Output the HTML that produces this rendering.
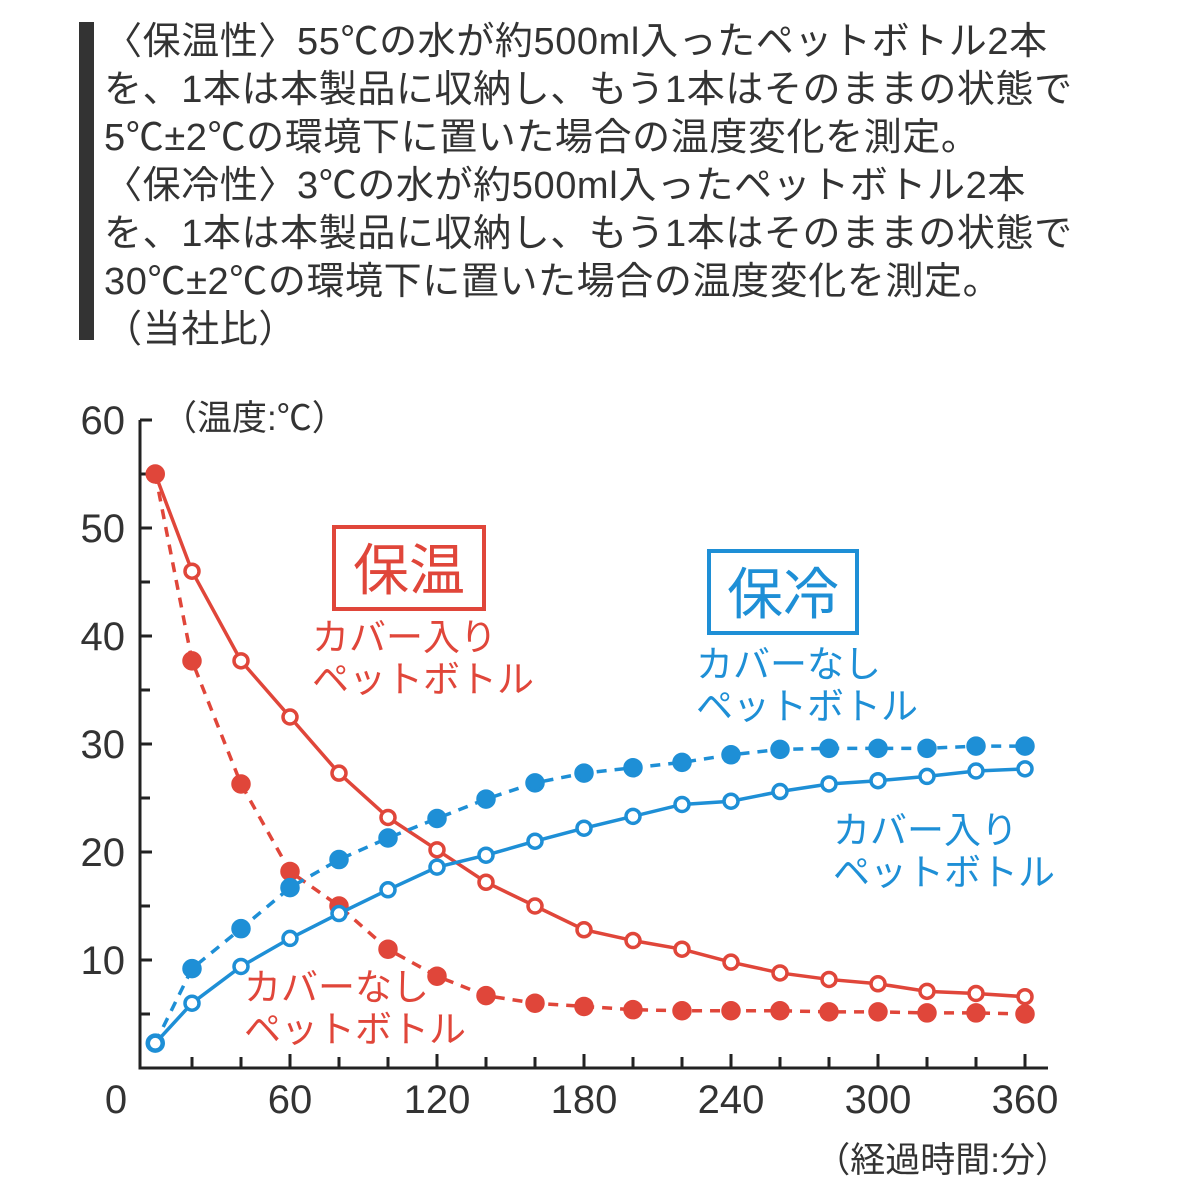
<!DOCTYPE html>
<html><head><meta charset="utf-8"><style>
body{margin:0;background:#fff;width:1200px;height:1200px;overflow:hidden}
.t{position:absolute;left:104px;font-family:"Liberation Sans","Noto Sans CJK JP",sans-serif;font-size:38px;letter-spacing:0.6px;color:#333;white-space:nowrap;line-height:48px}
</style></head><body>
<div style="position:absolute;left:79px;top:22px;width:15px;height:318px;background:#333"></div>
<div class="t" style="top:18px">〈保温性〉55℃の水が約500ml入ったペットボトル2本<br>を、1本は本製品に収納し、もう1本はそのままの状態で<br>5℃±2℃の環境下に置いた場合の温度変化を測定。<br>〈保冷性〉3℃の水が約500ml入ったペットボトル2本<br>を、1本は本製品に収納し、もう1本はそのままの状態で<br>30℃±2℃の環境下に置いた場合の温度変化を測定。<br>（当社比）</div>
<svg id="s" width="1200" height="1200" style="position:absolute;left:0;top:0" font-family="Liberation Sans, Noto Sans CJK JP, sans-serif"></svg>
<script>
const s=document.getElementById('s');let h='';
const X=t=>143+t*147/60, Y=v=>1068-v*10.8;
h+='<path d="M140 420 V1068 H1048" stroke="#222" stroke-width="3" fill="none"/>';
for(let v=5;v<=60;v+=5)h+=`<line x1="140" x2="${v%10?150:152}" y1="${Y(v)}" y2="${Y(v)}" stroke="#222" stroke-width="3"/>`;
for(let t=20;t<=360;t+=20)h+=`<line x1="${X(t)}" x2="${X(t)}" y1="1068" y2="${t%60?1057:1054}" stroke="#222" stroke-width="3"/>`;
for(let v=10;v<=60;v+=10)h+=`<text x="125" y="${Y(v)+14}" text-anchor="end" font-size="40" fill="#333">${v}</text>`;
h+=`<text x="116" y="1113" text-anchor="middle" font-size="40" fill="#333">0</text>`;
for(let t=60;t<=360;t+=60)h+=`<text x="${X(t)}" y="1113" text-anchor="middle" font-size="40" fill="#333">${t}</text>`;
h+=`<text x="162" y="430" font-size="35" fill="#333">（温度:℃）</text>`;
h+=`<text x="1070" y="1172" text-anchor="end" font-size="35" fill="#333">（経過時間:分）</text>`;
const T=[5,20,40,60,80,100,120,140,160,180,200,220,240,260,280,300,320,340,360];
const R='#e0463a',B='#1e8fd6';
const S=[
[[55,46,37.7,32.5,27.3,23.2,20.2,17.2,15,12.8,11.8,11,9.8,8.8,8.2,7.8,7.1,6.9,6.6],R,0],
[[55,37.7,26.3,18.2,15,11,8.5,6.7,6,5.7,5.4,5.3,5.3,5.3,5.2,5.2,5.1,5.1,5.0],R,1],
[[2.3,9.2,12.9,16.7,19.3,21.3,23.1,24.9,26.4,27.3,27.8,28.3,29,29.5,29.6,29.6,29.6,29.8,29.8],B,1],
[[2.3,6,9.4,12,14.3,16.5,18.6,19.7,21,22.2,23.3,24.4,24.7,25.6,26.3,26.6,27,27.5,27.7],B,0]];
for(const [d,c,f] of S){
 h+=`<polyline points="${d.map((v,i)=>X(T[i])+','+Y(v)).join(' ')}" fill="none" stroke="${c}" stroke-width="3.5" ${f?'stroke-dasharray="10 8"':''}/>`;
 d.forEach((v,i)=>h+=`<circle cx="${X(T[i])}" cy="${Y(v)}" r="${f?8:7}" fill="${f?c:'#fff'}" stroke="${c}" stroke-width="3.5"/>`);
}
h+=`<rect x="334" y="527" width="150" height="82" fill="none" stroke="${R}" stroke-width="4"/>`;
h+=`<text x="409" y="590" text-anchor="middle" font-size="56" fill="${R}">保温</text>`;
h+=`<text x="312" y="650" font-size="37" fill="${R}">カバー入り</text><text x="312" y="692" font-size="37" fill="${R}">ペットボトル</text>`;
h+=`<text x="244" y="1000" font-size="37" fill="${R}">カバーなし</text><text x="244" y="1042" font-size="37" fill="${R}">ペットボトル</text>`;
h+=`<rect x="709" y="551" width="148" height="82" fill="none" stroke="${B}" stroke-width="4"/>`;
h+=`<text x="783" y="614" text-anchor="middle" font-size="56" fill="${B}">保冷</text>`;
h+=`<text x="696" y="677" font-size="37" fill="${B}">カバーなし</text><text x="696" y="719" font-size="37" fill="${B}">ペットボトル</text>`;
h+=`<text x="833" y="843" font-size="37" fill="${B}">カバー入り</text><text x="833" y="885" font-size="37" fill="${B}">ペットボトル</text>`;
s.innerHTML=h;
</script>
</body></html>
